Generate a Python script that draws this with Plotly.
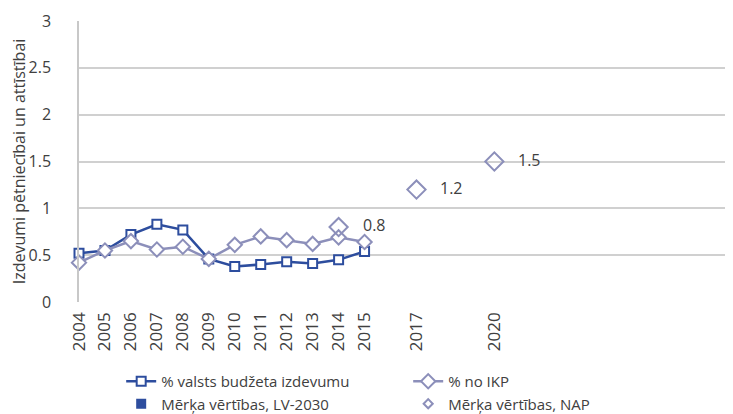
import plotly.graph_objects as go

years = [2004, 2005, 2006, 2007, 2008, 2009, 2010, 2011, 2012, 2013, 2014, 2015]
budget_pct = [0.52, 0.55, 0.72, 0.83, 0.77, 0.46, 0.38, 0.40, 0.43, 0.41, 0.45, 0.54]
gdp_pct = [0.42, 0.55, 0.65, 0.56, 0.59, 0.46, 0.61, 0.70, 0.66, 0.62, 0.69, 0.64]
lv2030_years = [None]
lv2030_vals = [None]
nap_years = [2014, 2017, 2020]
nap_vals = [0.8, 1.2, 1.5]
nap_labels = ["0.8", "1.2", "1.5"]
tick_years = [2004, 2005, 2006, 2007, 2008, 2009, 2010, 2011, 2012, 2013, 2014, 2015, 2017, 2020]

BLUE = "#2D4D9E"
GREY = "#8C8FBA"
FONT = "Open Sans"
TXT = "#404040"
FS = 16

fig = go.Figure()
fig.add_trace(go.Scatter(
    x=years, y=budget_pct, mode="lines+markers", name="% valsts budžeta izdevumu",
    line=dict(color=BLUE, width=2.5), cliponaxis=False,
    marker=dict(symbol="square", size=9, color="white", line=dict(color=BLUE, width=2)),
))
fig.add_trace(go.Scatter(
    x=years, y=gdp_pct, mode="lines+markers", name="% no IKP",
    line=dict(color=GREY, width=2.5), cliponaxis=False,
    marker=dict(symbol="diamond", size=11, color="white", line=dict(color=GREY, width=2)),
))
fig.add_trace(go.Scatter(
    x=lv2030_years, y=lv2030_vals, mode="markers", name="Mērķa vērtības, LV-2030",
    marker=dict(symbol="square", size=10, color=BLUE),
))
# legend entry for the NAP targets (small symbol, as in the reference legend)
fig.add_trace(go.Scatter(
    x=[None], y=[None], mode="markers", name="Mērķa vērtības, NAP",
    marker=dict(symbol="diamond-open", size=7, color=GREY, line=dict(color=GREY, width=2)),
))
fig.add_trace(go.Scatter(
    x=nap_years, y=nap_vals, mode="markers", name="Mērķa vērtības, NAP",
    showlegend=False, cliponaxis=False,
    marker=dict(symbol="diamond-open", size=14, color=GREY, line=dict(color=GREY, width=2)),
))

for xv, yv, t in zip(nap_years, nap_vals, nap_labels):
    fig.add_annotation(x=xv, y=yv, text=t, showarrow=False, xanchor="left",
                       yanchor="middle", xshift=22, yshift=2,
                       font=dict(family=FONT, size=FS, color=TXT))

fig.update_layout(
    width=725, height=406,
    margin=dict(l=71, r=5, t=13, b=112, autoexpand=False),
    paper_bgcolor="white", plot_bgcolor="white",
    font=dict(family=FONT, size=FS, color=TXT),
    showlegend=True,
    legend=dict(
        orientation="h", x=0.065, y=-0.224, xanchor="left", yanchor="top",
        entrywidth=242, entrywidthmode="pixels",
        font=dict(family=FONT, size=15, color=TXT),
        tracegroupgap=0,
    ),
)
fig.update_xaxes(
    range=[2004, 2029], tickmode="array", tickvals=tick_years,
    ticktext=[str(y) for y in tick_years], tickangle=-90,
    showgrid=False, zeroline=False, showline=False, ticks="", automargin=False,
    ticklabelstandoff=6,
    tickfont=dict(family=FONT, size=17, color=TXT),
)
fig.update_yaxes(
    range=[0, 3], tickvals=[0, 0.5, 1, 1.5, 2, 2.5, 3],
    ticktext=["0", "0.5", "1", "1.5", "2", "2.5", "3"],
    showgrid=True, gridcolor="#D0D0D0", gridwidth=1.5,
    zeroline=False, showline=True, linecolor="#C8C8C8", linewidth=1.5,
    ticks="", ticklabelstandoff=23, automargin=False,
    tickfont=dict(family=FONT, size=FS, color=TXT),
    title=dict(text="Izdevumi pētniecībai un attīstībai", standoff=0,
               font=dict(family=FONT, size=16, color=TXT)),
)

fig.write_html("out.html")
